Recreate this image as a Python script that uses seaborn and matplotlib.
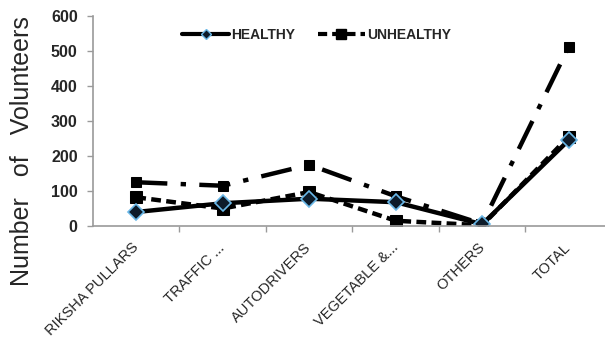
import matplotlib
matplotlib.use("Agg")
import matplotlib.pyplot as plt
import matplotlib.ticker as mticker
from matplotlib.lines import Line2D
import seaborn as sns
import pandas as pd

categories = ["RIKSHA PULLARS", "TRAFFIC ...", "AUTODRIVERS", "VEGETABLE &...", "OTHERS", "TOTAL"]
healthy = [40, 65, 78, 68, 5, 245]
unhealthy = [82, 50, 97, 15, 2, 255]
combined = [125, 115, 175, 85, 6, 512]
y_ticks = [0, 100, 200, 300, 400, 500, 600]

sns.set_theme(style="white")
plt.rcParams["font.family"] = ["Liberation Sans", "DejaVu Sans"]

fig = plt.figure(figsize=(6.05, 3.46), dpi=100)
ax = fig.add_axes([93 / 605, 1 - 226 / 346, 1 - 93 / 605, (226 - 16) / 346])

df = pd.DataFrame({"cat": categories, "HEALTHY": healthy,
                   "UNHEALTHY": unhealthy, "ALL": combined})

sns.lineplot(data=df, x="cat", y="ALL", ax=ax, color="black", lw=3.2,
             marker="s", markersize=7, markeredgecolor="black", sort=False)
sns.lineplot(data=df, x="cat", y="UNHEALTHY", ax=ax, color="black", lw=3.2,
             marker="s", markersize=8, markeredgecolor="black", sort=False)
sns.lineplot(data=df, x="cat", y="HEALTHY", ax=ax, color="black", lw=3.2,
             marker="D", markersize=8, markerfacecolor="#0d1b2a",
             markeredgecolor="#6ab8e8", markeredgewidth=1.2, sort=False)

l_all, l_unh, l_hea = ax.lines[:3]
l_all.set_dashes([7, 3, 1.2, 3])
l_unh.set_dashes([2.2, 1.2])
l_hea.set_linestyle("-")

ax.set_xlim(-0.5, 5.42)
ax.set_ylim(0, 600)
ax.set_yticks(y_ticks)
ax.set_xlabel("")

ylab = ax.set_ylabel("Number   of   Volunteers", fontsize=18)
ax.yaxis.set_label_coords((22 - 93) / 512, (226 - 151) / 210)
ylab.set_verticalalignment("center")
ylab.set_horizontalalignment("center")
ylab.set_rotation_mode("default")

ax.xaxis.set_major_locator(mticker.FixedLocator(range(len(categories))))
ax.set_xticklabels(categories, rotation=45, ha="right", va="center",
                   rotation_mode="anchor", fontsize=10.5)
ax.xaxis.set_minor_locator(mticker.FixedLocator([i + 0.5 for i in range(len(categories))]))
ax.tick_params(axis="x", which="major", length=0, pad=14)
ax.tick_params(axis="x", which="minor", length=4, width=1, color="#9a9a9a",
               direction="out", bottom=True)
ax.tick_params(axis="y", length=4, width=1, color="#9a9a9a", direction="out",
               left=True, pad=7, labelsize=11.5)
for lab in ax.get_yticklabels():
    lab.set_fontweight("bold")

for side in ["top", "right"]:
    ax.spines[side].set_visible(False)
for side in ["left", "bottom"]:
    ax.spines[side].set_color("#9a9a9a")
    ax.spines[side].set_linewidth(1.2)

handles = [
    Line2D([], [], color="black", lw=3, marker="D", markersize=5,
           markerfacecolor="#0d1b2a", markeredgecolor="#6ab8e8"),
    Line2D([], [], color="black", lw=3, dashes=[2.2, 1.2], marker="s",
           markersize=7),
]
ax.legend(handles, ["HEALTHY", "UNHEALTHY"], loc="center",
          bbox_to_anchor=(0.4365, 0.91), ncol=2, frameon=False,
          handlelength=3.4, columnspacing=1.6, handletextpad=0.15,
          prop={"weight": "bold", "size": 10})

fig.savefig("out.png", dpi=100)
